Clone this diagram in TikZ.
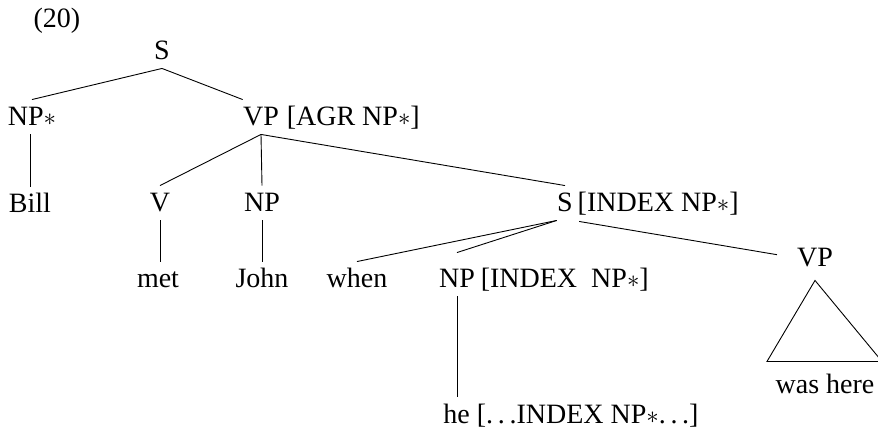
\documentclass[tikz,border=0pt]{standalone}
\usepackage{fontspec}
\setmainfont{Liberation Serif}
\usetikzlibrary{positioning}
\tikzset{
	every node/.style={font=\fontsize{28}{32}\selectfont, inner sep=0pt, text height=26pt, text depth=8pt},
	head/.style={anchor=base},
	every path/.style={line width=0.9pt},
}

\begin{document}
\begin{tikzpicture}[x=1pt, y=-1pt]
	\useasboundingbox (0,0) rectangle (878,430);
	\node[head] (ex) at (57,28) {(20)};
	\node[head] (s) at (162,60) {S};
	\node[head] (npa) at (32,126) {NP$\ast$};
	\node[head] (vp) at (261,126) {VP};
	\node[right=7pt of vp] (vpf) {[AGR NP$\ast$]};
	\node[head] (bill) at (30,213) {Bill};
	\node[head] (v) at (160,212) {V};
	\node[head] (np) at (262,212) {NP};
	\node[head] (s2) at (565,212) {S};
	\node[right=4pt of s2] (s2f) {[INDEX NP$\ast$]};
	\node[head] (met) at (158,288) {met};
	\node[head] (john) at (262,288) {John};
	\node[head] (when) at (357,288) {when};
	\node[head] (np2) at (457,288) {NP};
	\node[right=5pt of np2] (np2f) {[INDEX~~NP$\ast$]};
	\node[head] (vp2) at (815,267) {VP};
	\node[head] (was) at (825,393) {was here};
	\node[head] (he) at (571,423) {he [.\,.\,.INDEX NP$\ast$.\,.\,.]};
	\draw (s.south) edge (npa.north)
		(s.south) edge (vp.north west)
		(bill.north |- npa.south) edge (bill.north)
		(vp.south) edge (v.north)
		(vp.south) edge (np.north)
		(vp.south) edge (s2.north)
		(v.south) edge (v.south |- met.north)
		(np.south) edge (john.north)
		(s2.south west) edge (when.north)
		(s2.south west) edge ([yshift=9pt]np2.north)
		(s2.south east) edge[shorten <=6pt, shorten >=20pt] (vp2.west)
		(np2.south) edge (np2.south |- he.north);
	\draw ([yshift=-5pt]vp2.south) -- ++(-48,81) -- ++(115,0) -- cycle;
\end{tikzpicture}
\end{document}
